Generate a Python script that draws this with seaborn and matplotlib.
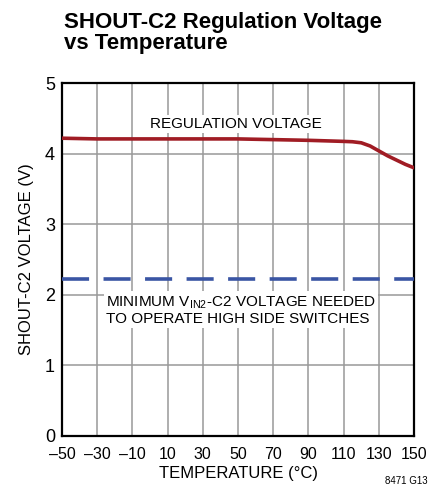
import matplotlib
matplotlib.use("Agg")
import matplotlib.pyplot as plt
import seaborn as sns
import pandas as pd

# --- data ---
temp_c = [-50, -30, -10, 10, 30, 50, 70, 90, 110, 115, 120, 125, 130, 135, 140, 145, 150]
reg_voltage = [4.22, 4.21, 4.21, 4.21, 4.21, 4.21, 4.20, 4.19, 4.175, 4.17, 4.155, 4.11,
               4.04, 3.97, 3.91, 3.85, 3.80]
min_temp = [-50, 150]
min_voltage = [2.23, 2.23]
x_ticks = [-50, -30, -10, 10, 30, 50, 70, 90, 110, 130, 150]
y_ticks = [0, 1, 2, 3, 4, 5]

sns.set_theme(style="white", rc={'text.color': 'black', 'axes.labelcolor': 'black',
                                 'xtick.color': 'black', 'ytick.color': 'black'})
plt.rcParams['font.family'] = ['Liberation Sans', 'DejaVu Sans']

df_reg = pd.DataFrame({'temp': temp_c, 'volt': reg_voltage})
df_min = pd.DataFrame({'temp': min_temp, 'volt': min_voltage})

fig = plt.figure(figsize=(4.3, 4.98), dpi=100)
ax = fig.add_axes([0.144, 0.1245, 0.819, 0.7085])

sns.lineplot(data=df_reg, x='temp', y='volt', ax=ax, color='#A01C24', linewidth=2.6, zorder=3)
sns.lineplot(data=df_min, x='temp', y='volt', ax=ax, color='#3A55A4', linewidth=2.6, zorder=3)
ax.lines[-1].set_dashes([7.5, 4])

ax.set_xlim(-50, 150)
ax.set_ylim(0, 5)
ax.set_xticks(x_ticks)
ax.set_xticklabels([str(t).replace('-', '\u2013') for t in x_ticks])
ax.set_yticks(y_ticks)
ax.tick_params(axis='x', labelsize=11.5, length=0, pad=8)
ax.tick_params(axis='y', labelsize=13, length=0, pad=5)
ax.grid(True, color='#999999', linewidth=1.1)
ax.set_axisbelow(True)
for s in ax.spines.values():
    s.set_color('black')
    s.set_linewidth(1.6)

ax.set_xlabel('TEMPERATURE (°C)', fontsize=12, labelpad=3)
ax.set_ylabel('SHOUT-C2 VOLTAGE (V)', fontsize=12, labelpad=8)

box = dict(facecolor='white', edgecolor='none', pad=1.5)
ax.text(49, 4.42, 'REGULATION VOLTAGE', fontsize=11, ha='center', va='center',
        bbox=box, zorder=2)
ax.text(-25, 1.78, 'MINIMUM V$_{\\mathregular{IN2}}$-C2 VOLTAGE NEEDED\nTO OPERATE HIGH SIDE SWITCHES',
        fontsize=11, ha='left', va='center', linespacing=1.05, bbox=box, zorder=2)

fig.text(0.149, 0.975, 'SHOUT-C2 Regulation Voltage\nvs Temperature', fontsize=16,
         fontweight='bold', ha='left', va='top', linespacing=1.0)
fig.text(0.995, 0.035, '8471 G13', fontsize=7, ha='right', va='center')

fig.savefig('out.png', dpi=100)
